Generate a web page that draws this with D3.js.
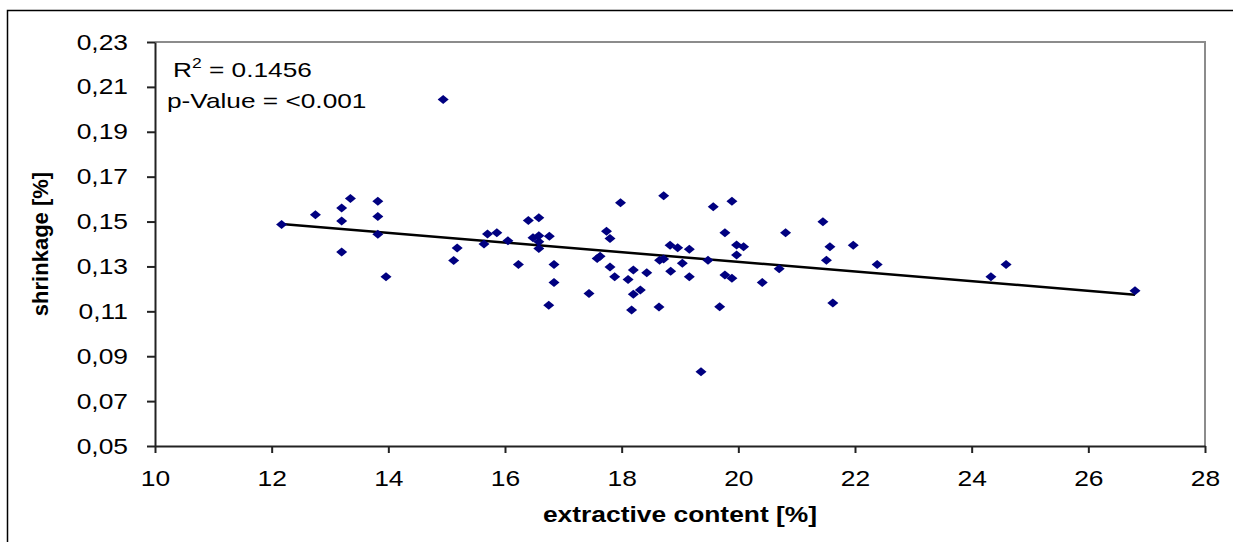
<!DOCTYPE html>
<html>
<head>
<meta charset="utf-8">
<script src="https://cdn.jsdelivr.net/npm/d3@7"></script>
<style>
  body { margin: 0; background: #fff; }
  svg { display: block; font-family: "Liberation Sans", Arial, sans-serif; }
</style>
</head>
<body>
<script>
// extractive content [%]
const extractive = [
  12.17, 12.75, 13.20, 13.35, 13.20, 13.20, 13.82, 13.82, 13.82, 13.96,
  14.94, 15.18, 15.12, 15.64, 15.70, 15.86, 16.05, 16.23, 16.40, 16.58,
  16.48, 16.58, 16.58, 16.58, 16.76, 16.84, 16.84, 16.75, 17.44, 17.74,
  17.80, 17.58, 17.63, 17.80, 17.88, 17.98, 18.11, 18.20, 18.43, 18.20,
  18.32, 18.17, 18.64, 18.72, 18.83, 18.96, 19.16, 18.65, 18.72, 18.84,
  19.04, 19.16, 19.48, 19.57, 19.89, 19.77, 19.97, 20.09, 19.97, 19.77,
  19.89, 19.68, 20.41, 20.70, 20.81, 19.36, 21.45, 21.57, 21.51, 21.97,
  21.62, 22.38, 24.59, 24.33, 26.80
];
// shrinkage [%]
const shrinkage = [
  0.1487, 0.1530, 0.1560, 0.1603, 0.1503, 0.1364, 0.1590, 0.1523, 0.1443, 0.1254,
  0.2044, 0.1382, 0.1327, 0.1400, 0.1444, 0.1450, 0.1414, 0.1309, 0.1505, 0.1517,
  0.1428, 0.1437, 0.1410, 0.1380, 0.1435, 0.1309, 0.1229, 0.1127, 0.1180, 0.1457,
  0.1425, 0.1335, 0.1345, 0.1298, 0.1254, 0.1584, 0.1242, 0.1284, 0.1272, 0.1176,
  0.1195, 0.1106, 0.1119, 0.1615, 0.1394, 0.1383, 0.1377, 0.1328, 0.1333, 0.1279,
  0.1314, 0.1254, 0.1328, 0.1566, 0.1591, 0.1450, 0.1395, 0.1388, 0.1351, 0.1262,
  0.1247, 0.1120, 0.1229, 0.1290, 0.1450, 0.0831, 0.1499, 0.1388, 0.1328, 0.1394,
  0.1137, 0.1309, 0.1309, 0.1254, 0.1192
];
const xTicks = [10, 12, 14, 16, 18, 20, 22, 24, 26, 28];
const yTicks = [0.05, 0.07, 0.09, 0.11, 0.13, 0.15, 0.17, 0.19, 0.21, 0.23];
const annotations = ["p-Value = <0.001"];

const width = 1233, height = 542;
const margin = {top: 42, right: 28, bottom: 96, left: 155};
// the reference text is stretched horizontally
const sx = 1.2;

const svg = d3.select("body").append("svg")
  .attr("width", width)
  .attr("height", height);

// outer chart frame
svg.append("rect")
  .attr("x", 7.5).attr("y", 10.5)
  .attr("width", width).attr("height", height)
  .attr("fill", "none").attr("stroke", "#000").attr("stroke-width", 1.5);

const x = d3.scaleLinear().domain([10, 28]).range([margin.left, width - margin.right]);
const y = d3.scaleLinear().domain([0.05, 0.23]).range([height - margin.bottom, margin.top]);

// plot area border (top + right, gray)
svg.append("path")
  .attr("d", `M${x(10)},${y(0.23)}H${x(28)}V${y(0.05)}`)
  .attr("fill", "none").attr("stroke", "#8c8c8c").attr("stroke-width", 2);

const fmt = d => d3.format(".2f")(d).replace(".", ",");

const yAxis = svg.append("g")
  .attr("transform", `translate(${x(10)},0)`)
  .call(d3.axisLeft(y).tickValues(yTicks).tickFormat(fmt).tickSize(8).tickPadding(19).tickSizeOuter(0));

const xAxis = svg.append("g")
  .attr("transform", `translate(0,${y(0.05)})`)
  .call(d3.axisBottom(x).tickValues(xTicks).tickSize(7).tickPadding(17).tickSizeOuter(0));

[xAxis, yAxis].forEach(a => {
  a.select(".domain").attr("stroke", "#222").attr("stroke-width", 2);
  a.selectAll(".tick line").attr("stroke", "#222").attr("stroke-width", 2);
  a.selectAll(".tick text")
    .attr("fill", "#000")
    .style("font-size", "22px")
    .style("font-family", '"Liberation Sans", Arial, sans-serif');
});
yAxis.selectAll(".tick text")
  .attr("x", -27 / sx)
  .attr("transform", `scale(${sx},1)`);
xAxis.selectAll(".tick text")
  .attr("transform", `scale(${sx},1)`);

// linear regression (least squares)
const n = extractive.length;
const mx = d3.mean(extractive), my = d3.mean(shrinkage);
let sxy = 0, sxx = 0;
for (let i = 0; i < n; i++) {
  sxy += (extractive[i] - mx) * (shrinkage[i] - my);
  sxx += (extractive[i] - mx) ** 2;
}
const slope = sxy / sxx;
const intercept = my - slope * mx;
const [xmin, xmax] = d3.extent(extractive);

svg.append("line")
  .attr("x1", x(xmin)).attr("y1", y(intercept + slope * xmin))
  .attr("x2", x(xmax)).attr("y2", y(intercept + slope * xmax))
  .attr("stroke", "#000").attr("stroke-width", 2.5);

// diamond markers
const diamond = "M0,-4.5L5.5,0L0,4.5L-5.5,0Z";
svg.append("g")
  .selectAll("path")
  .data(d3.range(n))
  .join("path")
  .attr("d", diamond)
  .attr("transform", i => `translate(${x(extractive[i])},${y(shrinkage[i])})`)
  .attr("fill", "#000080");

// annotations
const r2 = svg.append("text")
  .attr("transform", `translate(173,77) scale(1.25,1)`)
  .style("font-size", "21px");
r2.append("tspan").text("R");
r2.append("tspan").attr("dy", -9).style("font-size", "14px").text("2");
r2.append("tspan").attr("dy", 9).text(" = 0.1456");

svg.append("text")
  .attr("transform", `translate(167,108) scale(1.25,1)`)
  .style("font-size", "21px")
  .text(annotations[0]);

// axis titles
svg.append("text")
  .attr("transform", `translate(${(x(10) + x(28)) / 2},522) scale(${sx},1)`)
  .attr("text-anchor", "middle")
  .style("font-size", "22px").style("font-weight", "bold")
  .text("extractive content [%]");

svg.append("text")
  .attr("transform", `translate(48,${(y(0.05) + y(0.23)) / 2}) rotate(-90)`)
  .attr("text-anchor", "middle")
  .style("font-size", "22px").style("font-weight", "bold")
  .text("shrinkage [%]");
</script>
</body>
</html>
